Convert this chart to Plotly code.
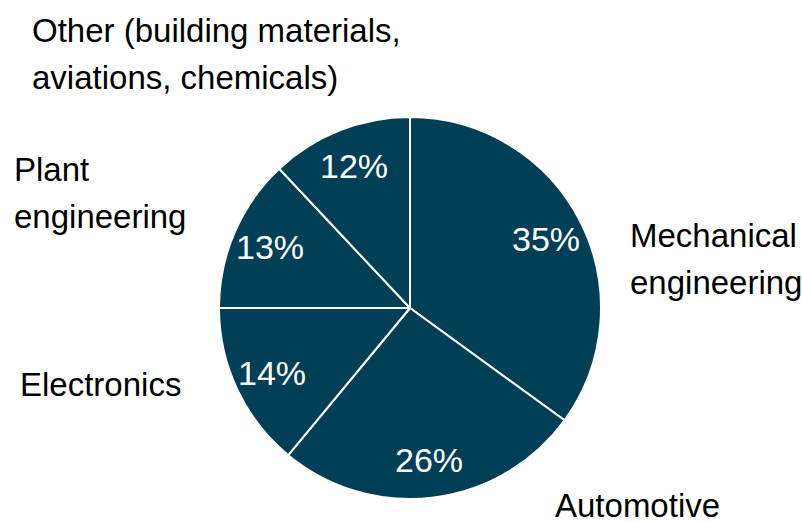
import math
import plotly.graph_objects as go

# Share of customers by industry
segments = ["Mechanical engineering", "Automotive", "Electronics",
            "Plant engineering", "Other (building materials, aviations, chemicals)"]
shares = [35, 26, 14, 13, 12]
label_lines = [["Mechanical", "engineering"], ["Automotive"], ["Electronics"],
               ["Plant", "engineering"], ["Other (building materials,", "aviations, chemicals)"]]

W, H = 802, 522
FONT = "Liberation Sans Narrow, Arial Narrow, Liberation Sans, Arial, sans-serif"
FILL = "#003F55"
SIZE = 33
LINE_GAP = 47

cx, cy, R = 410, 308, 191

fig = go.Figure(go.Pie(
    labels=segments,
    values=shares,
    sort=False,
    direction="clockwise",
    rotation=0,
    marker=dict(colors=[FILL] * len(shares), line=dict(color="white", width=2)),
    textinfo="none",
    domain=dict(x=[(cx - R) / W, (cx + R) / W], y=[(H - cy - R) / H, (H - cy + R) / H]),
    showlegend=False,
    hoverinfo="label+percent",
))

# Percentage labels placed along each slice's mid-angle
total = sum(shares)
cum = 0
for v in shares:
    mid = (cum + v / 2) / total * 2 * math.pi
    cum += v
    r = 0.8 * R
    px = cx + r * math.sin(mid)
    py = cy - r * math.cos(mid)
    fig.add_annotation(
        text=f"{round(100 * v / total)}%", xref="paper", yref="paper",
        x=px / W, y=1 - py / H, xanchor="center", yanchor="middle",
        showarrow=False,
        font=dict(family=FONT, size=SIZE + 1, color="white"),
    )

# Category captions around the pie (pixel anchor of the first line: left edge / centre)
label_pos = [(628, 235), (553, 505), (18, 384), (12, 170), (30, 30)]
for lines, (px, py) in zip(label_lines, label_pos):
    for i, line in enumerate(lines):
        fig.add_annotation(
            text=line, xref="paper", yref="paper",
            x=px / W, y=1 - (py + i * LINE_GAP) / H, xanchor="left", yanchor="middle",
            align="left", showarrow=False,
            font=dict(family=FONT, size=SIZE, color="#000000"),
        )

fig.update_layout(
    width=W, height=H,
    margin=dict(l=0, r=0, t=0, b=0),
    paper_bgcolor="white", plot_bgcolor="white",
)

fig.write_html("out.html")
